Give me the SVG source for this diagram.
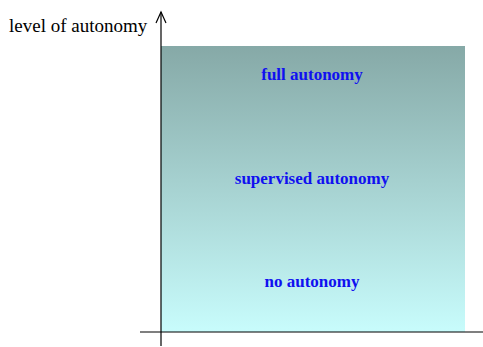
<svg xmlns="http://www.w3.org/2000/svg" width="483" height="347" viewBox="0 0 483 347">
<style>
.lbl{font-family:"Liberation Serif","Times New Roman",serif;font-weight:bold;font-size:17px;fill:#1010f0;text-anchor:middle}
.yl{font-family:"Liberation Serif","Times New Roman",serif;font-size:19px;fill:#000}
.ax{stroke:#000;stroke-width:1.2;fill:none}
</style>
<defs>
<linearGradient id="g" x1="0" y1="0" x2="0" y2="1">
<stop offset="0" stop-color="#86a9a7"/>
<stop offset="1" stop-color="#c8fcfc"/>
</linearGradient>
</defs>
<g id="area"><rect x="161" y="46" width="304" height="286" fill="url(#g)"/></g>
<g id="nodes">
<g id="full"><text class="lbl" x="312" y="80">full autonomy</text></g>
<g id="supervised"><text class="lbl" x="312" y="184">supervised autonomy</text></g>
<g id="none"><text class="lbl" x="312" y="287">no autonomy</text></g>
</g>
<g id="connectors">
<line class="ax" x1="161" y1="346" x2="161" y2="12"/>
<polyline class="ax" points="156,23 161,12 166,23"/>
<line class="ax" x1="140" y1="332" x2="483" y2="332"/>
</g>
<g id="ylabel"><text class="yl" x="9" y="32">level of autonomy</text></g>
</svg>
